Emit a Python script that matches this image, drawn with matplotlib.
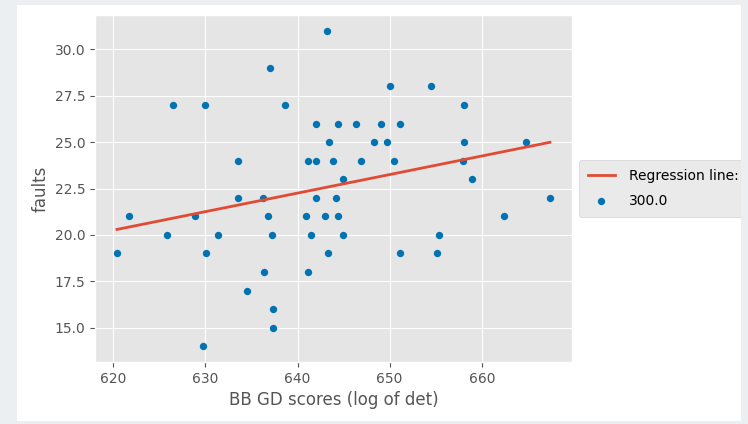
import numpy as np
import matplotlib
matplotlib.use('Agg')
import matplotlib.pyplot as plt
import matplotlib.patches as mpatches

# BB GD scores (x) and faults (y)
scores = [643.2,
          637.0,
          650.0, 654.5,
          626.5, 630.0, 638.6, 658.1,
          642.0, 644.4, 646.3, 649.1, 651.1,
          643.4, 648.3, 649.7, 658.1, 664.8,
          633.5, 641.1, 642.0, 643.9, 646.9, 650.5, 658.0,
          644.9, 658.9,
          633.5, 636.2, 642.0, 644.2, 667.4,
          621.7, 628.9, 636.8, 640.9, 643.0, 644.4, 662.4,
          625.8, 631.4, 637.2, 641.5, 644.9, 655.3,
          620.4, 630.1, 643.3, 651.1, 655.1,
          636.4, 641.1,
          634.5,
          637.3,
          637.3,
          629.7]
faults = [31,
          29,
          28, 28,
          27, 27, 27, 27,
          26, 26, 26, 26, 26,
          25, 25, 25, 25, 25,
          24, 24, 24, 24, 24, 24, 24,
          23, 23,
          22, 22, 22, 22, 22,
          21, 21, 21, 21, 21, 21, 21,
          20, 20, 20, 20, 20, 20,
          19, 19, 19, 19, 19,
          18, 18,
          17,
          16,
          15,
          14]

x = np.array(scores)
y = np.array(faults)
slope, intercept = np.polyfit(x, y, 1)
y_fit = slope * x + intercept

plt.style.use('ggplot')
fig = plt.figure(figsize=(7.48, 4.24), dpi=100)
fig.patch.set_facecolor('#eceff2')
# white notebook output area
fig.patches.append(mpatches.Rectangle((17 / 748, 1 - 421 / 424), 724 / 748, 416 / 424,
                                      transform=fig.transFigure, facecolor='white',
                                      edgecolor='none', zorder=-10))

ax = fig.add_axes([95.4 / 748, 1 - 362 / 424, 476.2 / 748, 347 / 424])
order = np.argsort(x)
line, = ax.plot(x[order], y_fit[order], color='#E24A33', lw=2, zorder=3)
pts = ax.scatter(x, y, s=28, color='#0173B2', linewidths=0, zorder=2)

ax.set_xlabel('BB GD scores (log of det)', fontsize=12)
ax.set_ylabel('faults', fontsize=12)
ax.set_xticks([620, 630, 640, 650, 660])
ax.set_yticks([15.0, 17.5, 20.0, 22.5, 25.0, 27.5, 30.0])
ax.tick_params(labelsize=10)

ax.legend([line, pts], ['Regression line:', '300.0'], loc='center left',
          bbox_to_anchor=(1.0, 0.5), fontsize=10, labelspacing=0.75,
          borderpad=0.65, handletextpad=0.95)

# grey edge of the notebook cell drawn over everything (clips the legend)
fig.patches.append(mpatches.Rectangle((741 / 748, 0), 7 / 748, 1, transform=fig.transFigure,
                                      facecolor='#eceff2', edgecolor='none', zorder=10))

fig.savefig('out.png', dpi=100, facecolor=fig.get_facecolor())
